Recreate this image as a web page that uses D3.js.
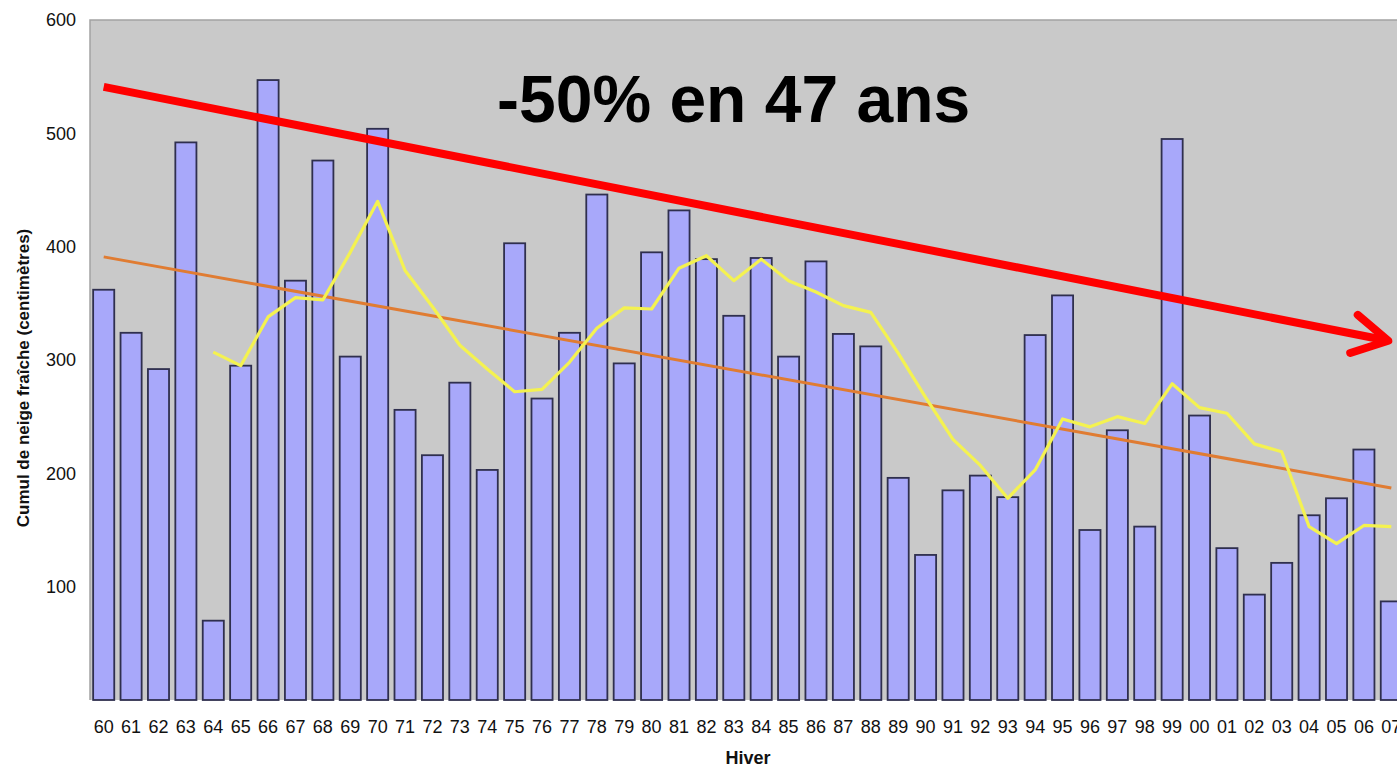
<!DOCTYPE html>
<html>
<head>
<meta charset="utf-8">
<script src="https://cdn.jsdelivr.net/npm/d3@7"></script>
<style>
  body { margin: 0; background: #fff; overflow: hidden; }
  svg { display: block; font-family: "Liberation Sans", Arial, sans-serif; }
</style>
</head>
<body>
<script>
// winters 1960 -> 2007
const winters = ["60","61","62","63","64","65","66","67","68","69",
  "70","71","72","73","74","75","76","77","78","79",
  "80","81","82","83","84","85","86","87","88","89",
  "90","91","92","93","94","95","96","97","98","99",
  "00","01","02","03","04","05","06","07"];

// cumul de neige fraîche (cm)
const snow = [362, 324, 292, 492, 70, 295, 547, 370, 476, 303,
  504, 256, 216, 280, 203, 403, 266, 324, 446, 297,
  395, 432, 389, 339, 390, 303, 387, 323, 312, 196,
  128, 185, 198, 179, 322, 357, 150, 238, 153, 495,
  251, 134, 93, 121, 163, 178, 221, 87];

// moyenne mobile (starts at winter 64)
const maStart = "64";
const movingAvg = [307, 295, 338, 355, 353, 395, 440, 379, 347, 313,
  292, 272, 274, 298, 328, 346, 345, 381, 392, 370,
  389, 370, 360, 348, 342, 306, 267, 230, 207, 178,
  203, 248, 241, 250, 244, 279, 258, 253, 226, 219,
  153, 138, 154, 153];

// linear trend, first & last winter
const trend = [{ w: "60", v: 391 }, { w: "07", v: 187 }];

// red annotation arrow
const arrow = [{ w: "60", v: 541 }, { w: "07", v: 317 }];
const arrowLabel = "-50% en 47 ans";

const yTicks = [100, 200, 300, 400, 500, 600];

const W = 1397, H = 768;
const plot = { left: 90, right: 1405, top: 20, bottom: 700 };

const svg = d3.select("body").append("svg")
  .attr("width", W)
  .attr("height", H);

const x = d3.scaleBand()
  .domain(winters)
  .range([plot.left, plot.right])
  .paddingInner(0.23)
  .paddingOuter(0.115);
const xc = w => x(w) + x.bandwidth() / 2;

const y = d3.scaleLinear()
  .domain([0, 600])
  .range([plot.bottom, plot.top]);

/* plot background */
svg.append("rect")
  .attr("x", plot.left)
  .attr("y", plot.top)
  .attr("width", plot.right - plot.left)
  .attr("height", plot.bottom - plot.top)
  .attr("fill", "#c9c9c9");
svg.append("path")
  .attr("d", `M${plot.left},${plot.bottom}V${plot.top}H${plot.right}`)
  .attr("fill", "none")
  .attr("stroke", "#a2a2a2")
  .attr("stroke-width", 1.5);

/* bars */
svg.append("g").selectAll("rect")
  .data(winters)
  .join("rect")
  .attr("x", d => x(d))
  .attr("y", (d, i) => y(snow[i]))
  .attr("width", x.bandwidth())
  .attr("height", (d, i) => y(0) - y(snow[i]))
  .attr("fill", "#a8a8fa")
  .attr("stroke", "#2f2f4e")
  .attr("stroke-width", 1.8);

/* trend line */
svg.append("line")
  .attr("x1", xc(trend[0].w)).attr("y1", y(trend[0].v))
  .attr("x2", xc(trend[1].w)).attr("y2", y(trend[1].v))
  .attr("stroke", "#e07c32")
  .attr("stroke-width", 3);

/* moving average */
const maOffset = winters.indexOf(maStart);
const line = d3.line()
  .x((d, i) => xc(winters[i + maOffset]))
  .y(d => y(d));
svg.append("path")
  .datum(movingAvg)
  .attr("d", line)
  .attr("fill", "none")
  .attr("stroke", "#f4f250")
  .attr("stroke-width", 3.2)
  .attr("stroke-linejoin", "round");

/* red arrow */
const ax1 = xc(arrow[0].w), ay1 = y(arrow[0].v),
  ax2 = xc(arrow[1].w) - 3, ay2 = y(arrow[1].v);
const ang = Math.atan2(ay2 - ay1, ax2 - ax1);
const headLen = 40, headAng = Math.PI / 6.2;
const red = svg.append("g")
  .attr("stroke", "#ff0000")
  .attr("stroke-width", 8)
  .attr("stroke-linecap", "round")
  .attr("fill", "none");
red.append("line")
  .attr("x1", ax1).attr("y1", ay1)
  .attr("x2", ax2).attr("y2", ay2)
  .attr("stroke-linecap", "butt");
red.append("path")
  .attr("d", `M${ax2 - headLen * Math.cos(ang - headAng)},${ay2 - headLen * Math.sin(ang - headAng)}` +
    `L${ax2},${ay2}` +
    `L${ax2 - headLen * Math.cos(ang + headAng)},${ay2 - headLen * Math.sin(ang + headAng)}`)
  .attr("stroke-linejoin", "round");

svg.append("text")
  .attr("x", 497)
  .attr("y", 122)
  .attr("font-size", 66)
  .attr("font-weight", "bold")
  .attr("fill", "#000")
  .text(arrowLabel);

/* axes labels */
svg.append("g").selectAll("text")
  .data(yTicks)
  .join("text")
  .attr("x", 76)
  .attr("y", d => y(d))
  .attr("dy", "0.35em")
  .attr("text-anchor", "end")
  .attr("font-size", 18)
  .attr("fill", "#111")
  .text(d => d);

svg.append("g").selectAll("text")
  .data(winters)
  .join("text")
  .attr("x", d => xc(d))
  .attr("y", 733)
  .attr("text-anchor", "middle")
  .attr("font-size", 18)
  .attr("fill", "#111")
  .text(d => d);

svg.append("text")
  .attr("x", 748)
  .attr("y", 764)
  .attr("text-anchor", "middle")
  .attr("font-size", 18)
  .attr("font-weight", "bold")
  .attr("fill", "#111")
  .text("Hiver");

svg.append("text")
  .attr("transform", "translate(29,378) rotate(-90)")
  .attr("text-anchor", "middle")
  .attr("font-size", 17)
  .attr("font-weight", "bold")
  .attr("fill", "#111")
  .text("Cumul de neige fraîche (centimètres)");
</script>
</body>
</html>
